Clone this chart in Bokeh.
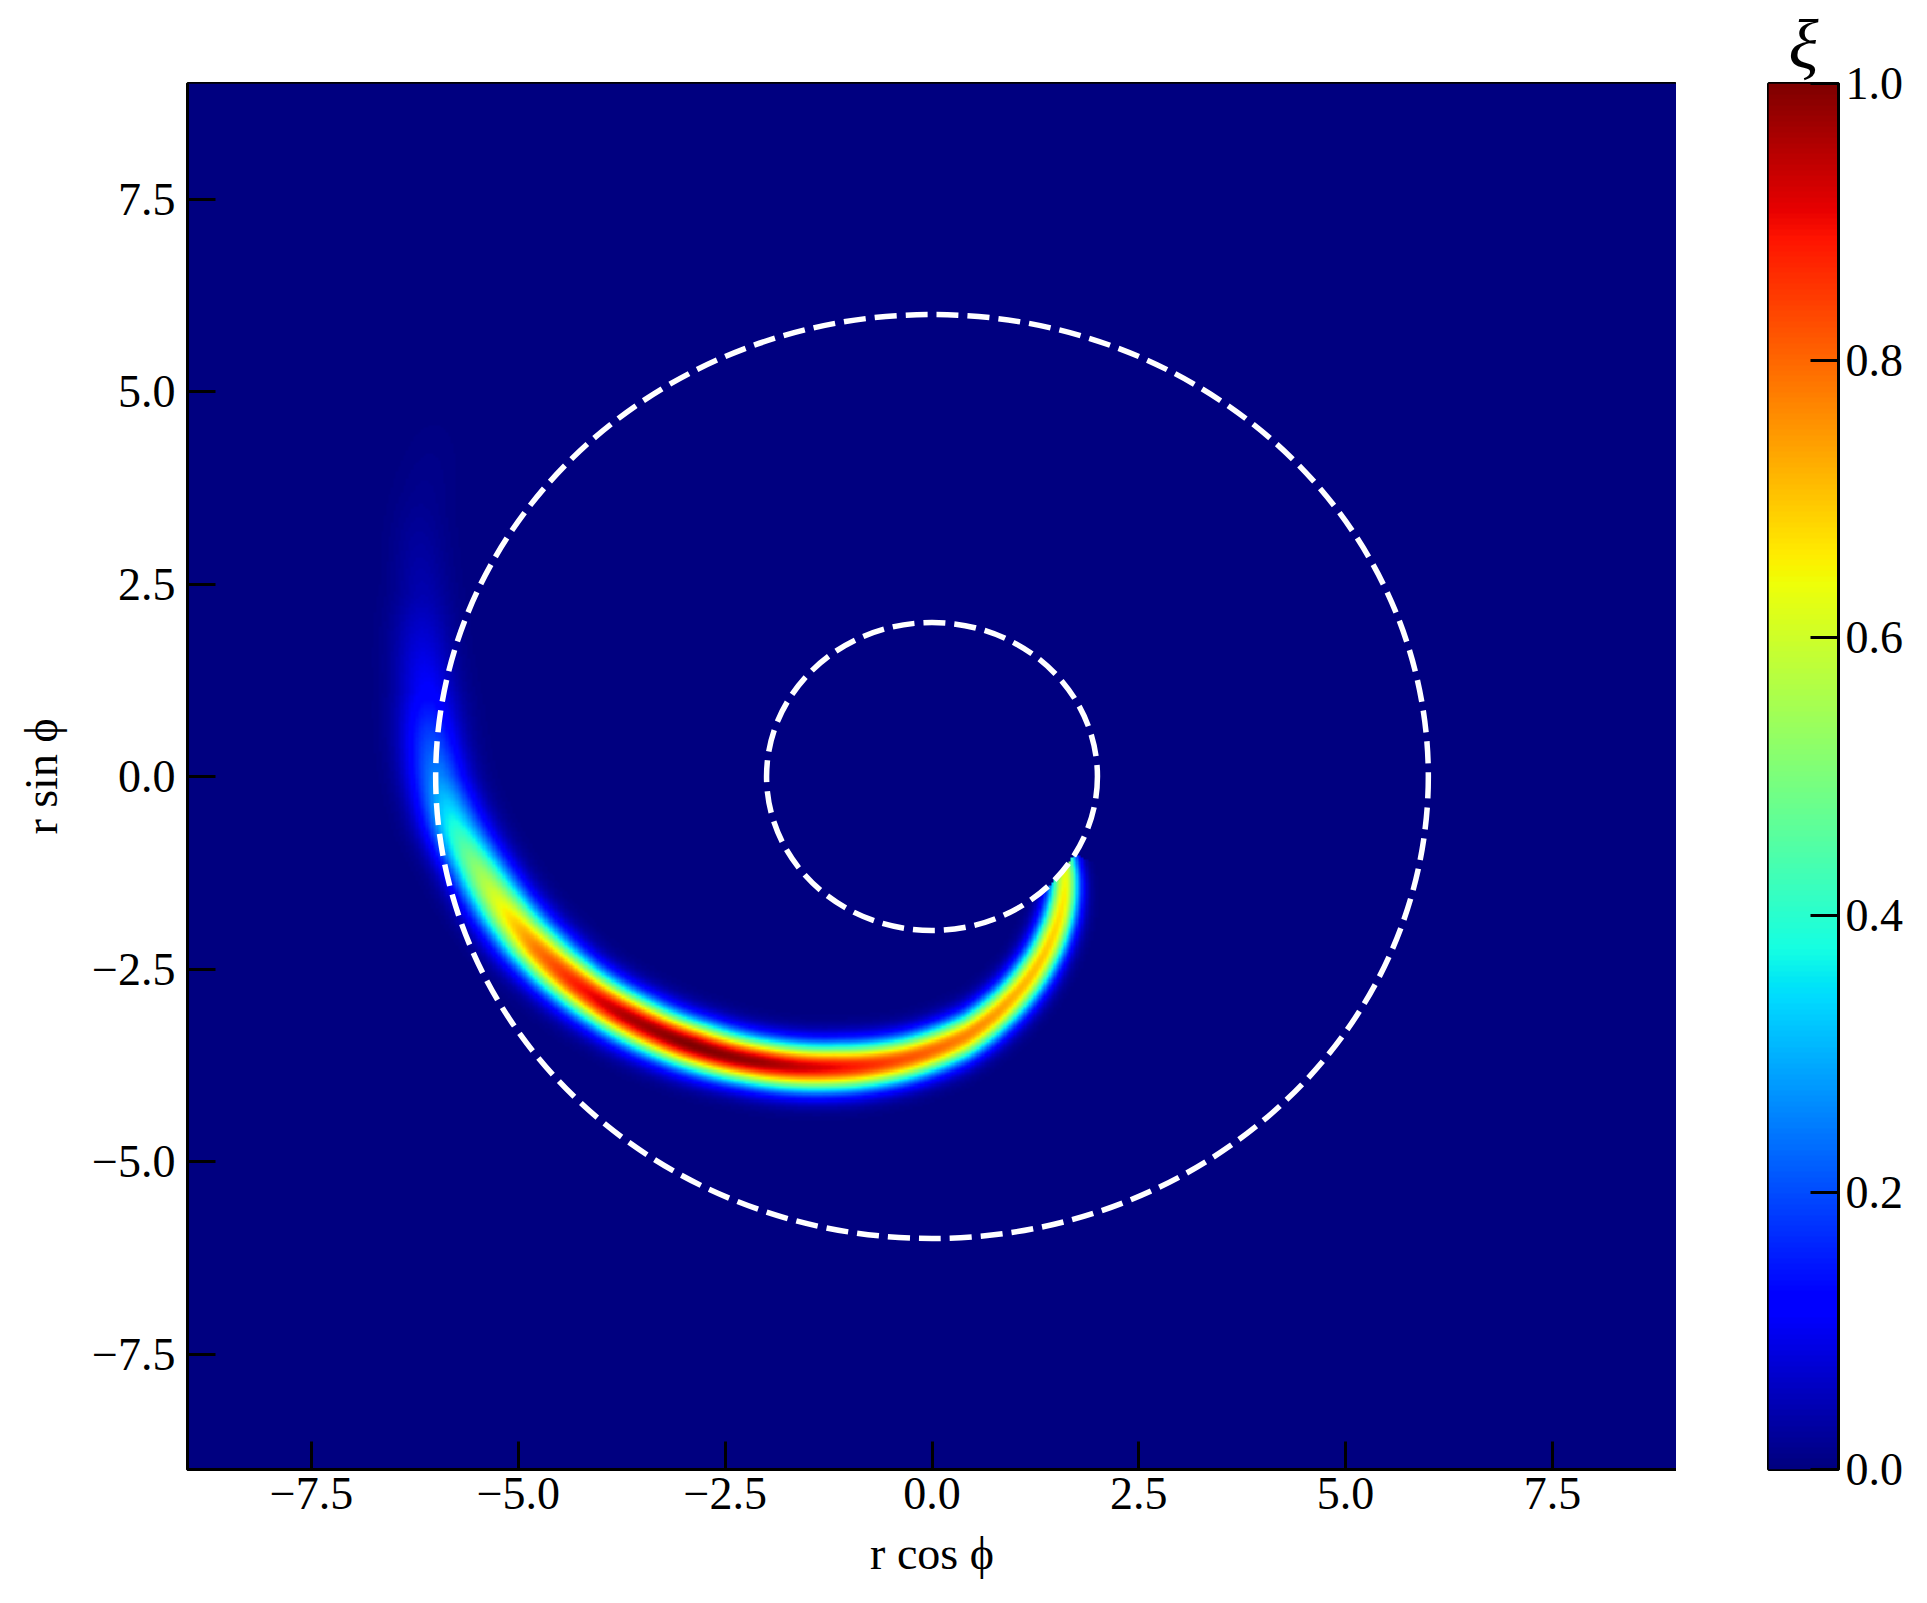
import numpy as np
from bokeh.plotting import figure
from bokeh.models import Range1d, FixedTicker, LinearColorMapper
from bokeh.layouts import row
from bokeh.embed import file_html
from bokeh.resources import INLINE

# ---------------- data ----------------
axis_limits = [-9.0, 9.0]
tick_values = [-7.5, -5.0, -2.5, 0.0, 2.5, 5.0, 7.5]
tick_labels = ["\u22127.5", "\u22125.0", "\u22122.5", "0.0", "2.5", "5.0", "7.5"]
cbar_ticks = [0.0, 0.2, 0.4, 0.6, 0.8, 1.0]
cbar_labels = ["0.0", "0.2", "0.4", "0.6", "0.8", "1.0"]
x_label = "r cos \u03d5"
y_label = "r sin \u03d5"
cbar_title = "\u03be"

circle_radii = [2.0, 6.0]          # white dashed circles
inner_cut_radius = 2.0             # xi is zero inside r < 2

# spiral arm ridge, sampled along it (clockwise angle from +x, in degrees)
ridge_angle = [30.0, 36.5, 45.0, 56.0, 70.0, 83.0, 96.0, 108.0, 120.0, 130.0,
               140.0, 148.0, 155.0, 162.0, 168.0, 174.0, 180.0, 190.0, 200.5, 210.0, 220.0]
ridge_radius = [1.80, 2.00, 2.25, 2.57, 3.00, 3.40, 3.71, 3.98, 4.28, 4.55,
                4.84, 5.08, 5.28, 5.47, 5.63, 5.82, 5.98, 6.19, 6.56, 7.10, 7.60]
ridge_peak = [0.58, 0.62, 0.66, 0.69, 0.72, 0.77, 0.83, 0.91, 0.98, 1.00,
              0.96, 0.88, 0.78, 0.64, 0.52, 0.38, 0.26, 0.12, 0.045, 0.015, 0.0]
ridge_width = [0.15, 0.16, 0.17, 0.18, 0.19, 0.20, 0.21, 0.22, 0.22, 0.23,
               0.23, 0.23, 0.24, 0.24, 0.24, 0.25, 0.25, 0.26, 0.26, 0.27, 0.27]

# ---------------- jet colormap ----------------
v = np.linspace(0, 1, 256)
jr = np.interp(v, [0, 0.35, 0.66, 0.89, 1], [0, 0, 1, 1, 0.5])
jg = np.interp(v, [0, 0.125, 0.375, 0.64, 0.91, 1], [0, 0, 1, 1, 0, 0])
jb = np.interp(v, [0, 0.11, 0.34, 0.65, 1], [0.5, 1, 1, 0, 0])
jet = ["#%02x%02x%02x" % (int(round(255 * a)), int(round(255 * b)), int(round(255 * c)))
       for a, b, c in zip(jr, jg, jb)]
mapper = LinearColorMapper(palette=jet, low=0.0, high=1.0)

# ---------------- field built from the ridge samples ----------------
n = 600
lo, hi = axis_limits
grid = np.linspace(lo, hi, n)
X, Y = np.meshgrid(grid, grid)
R = np.hypot(X, Y)
T = np.degrees(-np.arctan2(Y, X)) % 360.0
Rc = np.interp(T, ridge_angle, ridge_radius)
A = np.interp(T, ridge_angle, ridge_peak, left=0.0, right=0.0)
S = np.interp(T, ridge_angle, ridge_width)
xi = A * np.exp(-((R - Rc) ** 2) / (2 * S ** 2))
xi[R < inner_cut_radius] = 0.0
xi = xi.astype(np.float32)

FONT = "Liberation Serif"

# ---------------- main plot ----------------
p = figure(frame_width=1489, frame_height=1386,
           x_range=Range1d(lo, hi), y_range=Range1d(lo, hi),
           output_backend="svg", toolbar_location=None,
           min_border_left=187, min_border_top=83, min_border_right=0,
           min_border_bottom=100)
p.image(image=[xi], x=lo, y=lo, dw=hi - lo, dh=hi - lo, color_mapper=mapper)
p.ellipse(x=[0.0] * len(circle_radii), y=[0.0] * len(circle_radii),
          width=[2 * r for r in circle_radii], height=[2 * r for r in circle_radii],
          fill_color=None, line_color="white", line_width=5.5, line_dash="22 9")

for ax in (p.xaxis[0], p.yaxis[0]):
    ax.ticker = FixedTicker(ticks=tick_values)
    ax.major_label_overrides = dict(zip(tick_values, tick_labels))
    ax.major_tick_in = 28
    ax.major_tick_out = 0
    ax.minor_tick_in = 0
    ax.minor_tick_out = 0
    ax.major_tick_line_width = 3
    ax.major_tick_line_color = "black"
    ax.axis_line_width = 3
    ax.axis_line_color = "black"
    ax.major_label_text_font = FONT
    ax.major_label_text_font_size = "46px"
    ax.major_label_text_color = "black"
    ax.axis_label_text_font = FONT
    ax.axis_label_text_font_size = "46px"
    ax.axis_label_text_font_style = "normal"
    ax.axis_label_text_color = "black"
p.xaxis.axis_label = x_label
p.yaxis.axis_label = y_label
p.xaxis.major_label_standoff = 8
p.xaxis.axis_label_standoff = 16
p.yaxis.major_label_standoff = 12
p.yaxis.axis_label_standoff = 22
p.xgrid.grid_line_color = None
p.ygrid.grid_line_color = None
p.outline_line_color = "black"
p.outline_line_width = 3
p.outline_line_alpha = 1.0

# ---------------- colour bar ----------------
grad = np.linspace(0, 1, 256).reshape(256, 1).astype(np.float32)
p2 = figure(frame_width=70, frame_height=1386,
            x_range=Range1d(0, 1), y_range=Range1d(0, 1),
            x_axis_location=None, y_axis_location="right",
            output_backend="svg", toolbar_location=None,
            min_border_left=92, min_border_right=70, min_border_top=83,
            min_border_bottom=100)
p2.image(image=[grad], x=0, y=0, dw=1, dh=1, color_mapper=mapper)
cax = p2.yaxis[0]
cax.ticker = FixedTicker(ticks=cbar_ticks)
cax.major_label_overrides = dict(zip(cbar_ticks, cbar_labels))
cax.major_tick_in = 28
cax.major_tick_out = 0
cax.minor_tick_in = 0
cax.minor_tick_out = 0
cax.major_tick_line_width = 3
cax.axis_line_width = 3
cax.major_label_text_font = FONT
cax.major_label_text_font_size = "46px"
cax.major_label_text_color = "black"
cax.major_label_standoff = 7
p2.xgrid.grid_line_color = None
p2.ygrid.grid_line_color = None
p2.outline_line_color = "black"
p2.outline_line_width = 3
p2.title.text = cbar_title
p2.title.align = "center"
p2.title.text_font = FONT
p2.title.text_font_size = "70px"
p2.title.text_font_style = "italic"
p2.title.text_color = "black"
p2.title.standoff = 2

layout = row(p, p2)
open("out.html", "w").write(file_html(layout, INLINE))
